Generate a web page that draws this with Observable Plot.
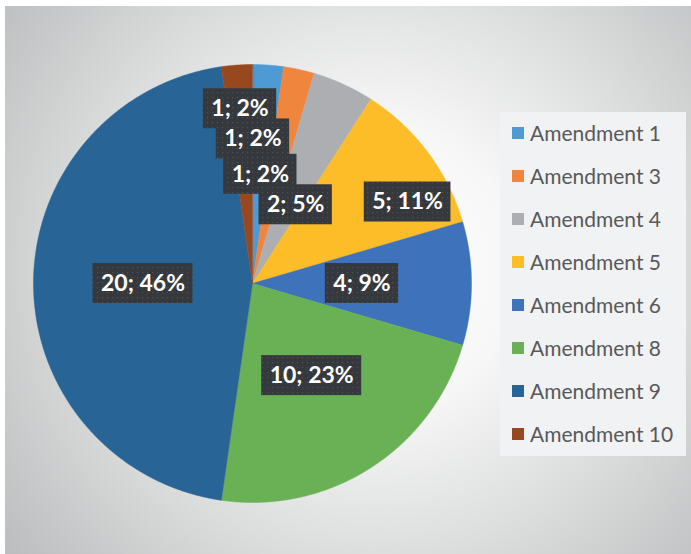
<!DOCTYPE html>
<html>
<head>
<meta charset="utf-8">
<script src="https://cdn.jsdelivr.net/npm/d3@7"></script>
<script src="https://cdn.jsdelivr.net/npm/@observablehq/plot@0.6"></script>
<style>
  body { margin: 0; background: #ffffff; }
  #wrap { position: relative; width: 691px; height: 554px; overflow: hidden; }
  #bg { position: absolute; left: 5px; top: 6px; width: 686px; height: 548px;
        background: radial-gradient(circle at 370px 260px, #ffffff 0%, #f7f7f7 30%, #dcdddd 62%, #bbbdbe 100%); }
  #chart { position: absolute; left: 0; top: 0; }
  #legend { position: absolute; left: 500px; top: 112px; width: 186px; height: 344px; background: #f1f2f4; }
  .row { position: absolute; left: 12px; height: 43px; display: flex; align-items: center;
         font-family: Lato, "Noto Sans", sans-serif; font-size: 21px; color: #595959; white-space: nowrap; }
  .sw { width: 12px; height: 12px; margin-right: 6px; flex: none; }
</style>
</head>
<body>
<svg width="0" height="0" style="position:absolute">
  <defs>
    <pattern id="dots" width="5" height="5" patternUnits="userSpaceOnUse">
      <rect width="5" height="5" fill="#35383c"></rect>
      <rect x="2" y="2" width="1.2" height="1.2" fill="#4d5054"></rect>
    </pattern>
  </defs>
</svg>
<div id="wrap">
  <div id="bg"></div>
  <div id="chart"></div>
  <div id="legend"></div>
</div>
<script>
// ---- data ----
const categories = ["Amendment 1", "Amendment 3", "Amendment 4", "Amendment 5", "Amendment 6", "Amendment 8", "Amendment 9", "Amendment 10"];
const counts     = [1, 1, 2, 5, 4, 10, 20, 1];
const percents   = [2, 2, 5, 11, 9, 23, 46, 2];
const colors     = ["#4e9ad5", "#f0853d", "#adaeb1", "#fcbd29", "#3e72bb", "#6ab155", "#286596", "#98481f"];

// ---- label placement (Excel moved the crowded labels) ----
const labelLayout = {
  "Amendment 3":  { turn: -12.1, r: 0.66 },
  "Amendment 4":  { turn: 4.2,   r: 0.41 },
  "Amendment 5":  { turn: 9.1,   r: 0.80 },
  "Amendment 10": { turn: 0,     r: 0.80 }
};

// ---- geometry ----
const R = 219, cx = 252, cy = 283;
const arcs = d3.pie().sort(null).value(d => d)(counts);

const slicePts = [];
arcs.forEach((a, i) => {
  const n = Math.max(2, Math.ceil((a.endAngle - a.startAngle) / 0.004));
  slicePts.push({ name: categories[i], x: 0, y: 0 });
  for (let k = 0; k <= n; k++) {
    const t = a.startAngle + (a.endAngle - a.startAngle) * k / n;
    slicePts.push({ name: categories[i], x: Math.sin(t), y: Math.cos(t) });
  }
});

const labelFont = "bold 23px Lato";
const ctx = document.createElement("canvas").getContext("2d");
ctx.font = labelFont;
const padX = 8, boxH = 40;
const labels = arcs.map((a, i) => {
  const name = categories[i];
  const lay = labelLayout[name] || { turn: 0, r: 0.5 };
  const t = (a.startAngle + a.endAngle) / 2 + lay.turn * Math.PI / 180;
  const x = lay.r * Math.sin(t), y = lay.r * Math.cos(t);
  const text = `${counts[i]}; ${percents[i]}%`;
  const w = ctx.measureText(text).width + 2 * padX;
  return { name, text, x, y,
           x1: x - w / 2 / R, x2: x + w / 2 / R,
           y1: y - boxH / 2 / R, y2: y + boxH / 2 / R };
});
// draw order: boxes stack like the reference
const drawOrder = ["Amendment 10", "Amendment 3", "Amendment 4", "Amendment 1", "Amendment 5", "Amendment 6", "Amendment 8", "Amendment 9"];
labels.sort((a, b) => drawOrder.indexOf(a.name) - drawOrder.indexOf(b.name));

const plot = Plot.plot({
  width: 691,
  height: 554,
  margin: 0,
  style: { background: "transparent", overflow: "visible" },
  x: { domain: [-1, 1], range: [cx - R, cx + R], axis: null },
  y: { domain: [-1, 1], range: [cy + R, cy - R], axis: null },
  color: { domain: categories, range: colors },
  marks: [
    Plot.line(slicePts, { x: "x", y: "y", z: "name", fill: "name", stroke: "name", strokeWidth: 0.5, curve: "linear-closed" }),
    Plot.rect(labels, { x1: "x1", x2: "x2", y1: "y1", y2: "y2", fill: "url(#dots)" }),
    Plot.text(labels, { x: "x", y: "y", text: "text", fill: "white", fontSize: 23, fontWeight: "bold", fontFamily: "Lato" })
  ]
});
document.getElementById("chart").appendChild(plot);

// ---- legend ----
const color = plot.scale("color");
const legend = d3.select("#legend");
categories.forEach((c, i) => {
  const row = legend.append("div").attr("class", "row").style("top", (20.7 + 43 * i - 21.5) + "px");
  row.append("div").attr("class", "sw").style("background", color.apply(c));
  row.append("span").text(c);
});
</script>
</body>
</html>
